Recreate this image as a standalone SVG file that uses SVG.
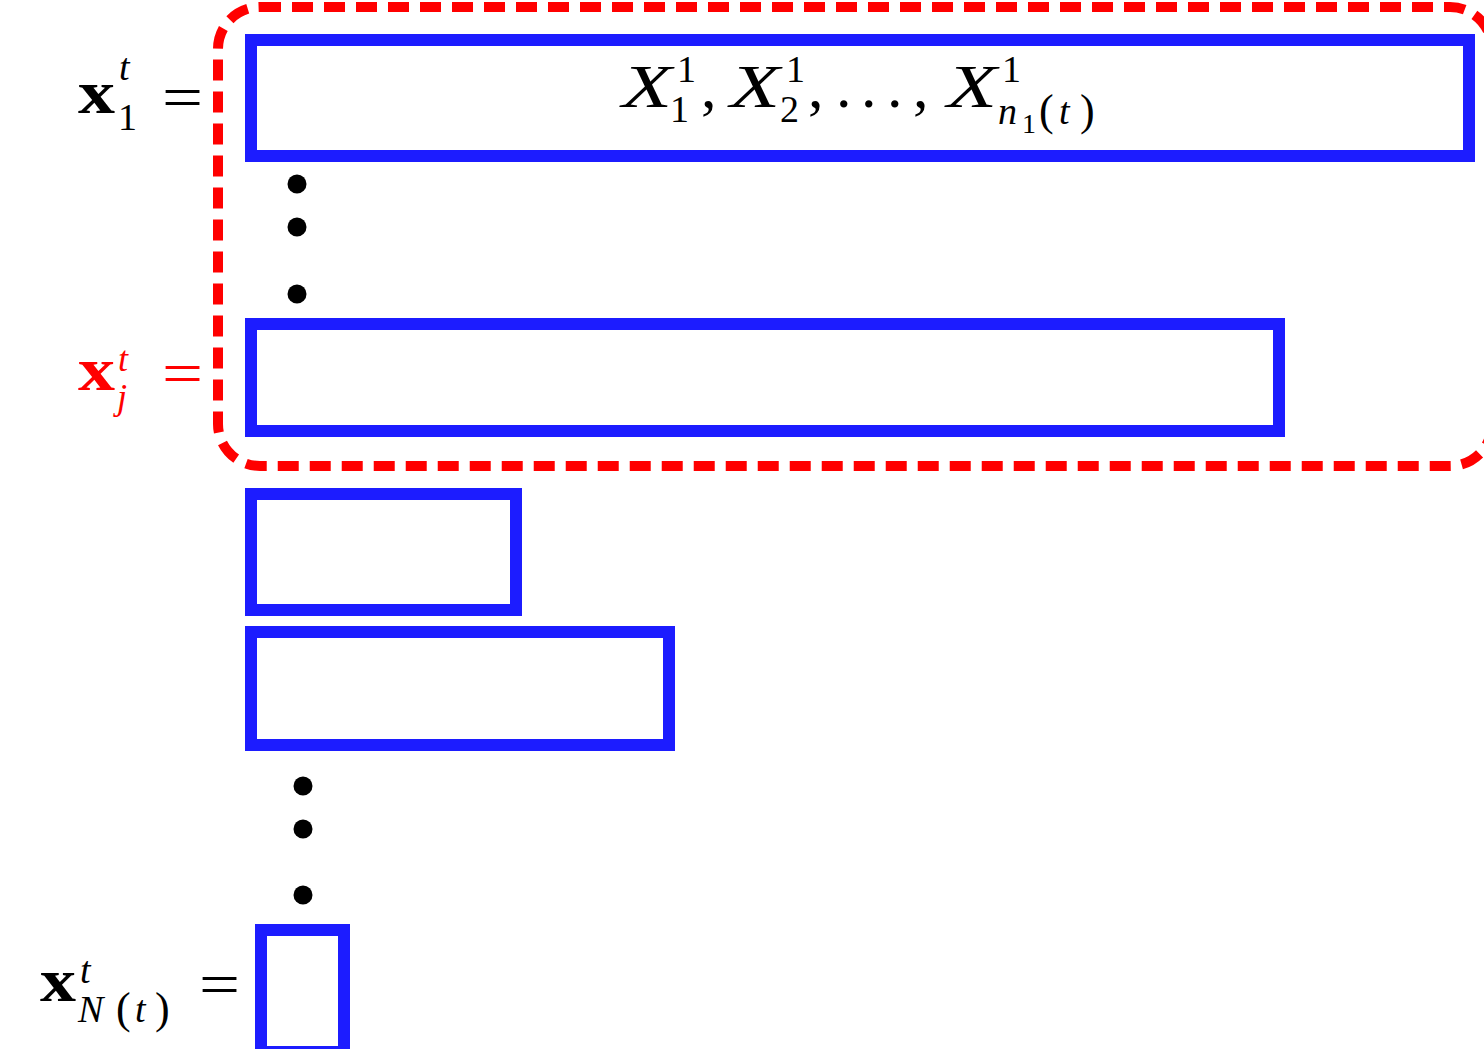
<svg xmlns="http://www.w3.org/2000/svg" width="1484" height="1049" viewBox="0 0 1484 1049">
<style>
.box{fill:none;stroke:#1c1cff;stroke-width:12}
.grp{fill:none;stroke:#ff0000;stroke-width:10;stroke-dasharray:21 11}
.dot{fill:#000}
.m{font-family:"Liberation Serif",serif;fill:#000}
.it{font-style:italic}
.bf{font-weight:bold}
.big{font-size:62px}
.sc{font-size:38px}
.ssc{font-size:28px}
.par{font-size:44px}
.red{fill:#ff0000}
</style>
<rect width="1484" height="1049" fill="#fff"/>
<g id="connectors">
<rect id="group-j" class="grp" x="218" y="7" width="1274" height="459" rx="42" ry="42"/>
</g>
<g id="node-x1">
<rect class="box" x="251" y="40" width="1218" height="116"/>
<text class="m big it" x="622" y="107" textLength="50" lengthAdjust="spacingAndGlyphs">X</text>
<text class="m sc" x="677" y="82">1</text>
<text class="m sc" x="670" y="122">1</text>
<text class="m big" x="701" y="107">,</text>
<text class="m big it" x="730" y="107" textLength="50" lengthAdjust="spacingAndGlyphs">X</text>
<text class="m sc" x="786" y="82">1</text>
<text class="m sc" x="780" y="122">2</text>
<text class="m big" x="808" y="107">,</text>
<text class="m big" x="836" y="107">.</text>
<text class="m big" x="861" y="107">.</text>
<text class="m big" x="887" y="107">.</text>
<text class="m big" x="913" y="107">,</text>
<text class="m big it" x="947" y="107" textLength="50" lengthAdjust="spacingAndGlyphs">X</text>
<text class="m sc" x="1002" y="82">1</text>
<text class="m sc it" x="998" y="124">n</text>
<text class="m ssc" x="1022" y="133">1</text>
<text class="m par" x="1039" y="125">(</text>
<text class="m sc it" x="1059" y="124">t</text>
<text class="m par" x="1080" y="125">)</text>
<text class="m bf" font-size="62" x="78" y="113" textLength="37" lengthAdjust="spacingAndGlyphs">x</text>
<text class="m sc it" x="119" y="80">t</text>
<text class="m sc" x="118" y="130">1</text>
<text class="m big" x="162" y="118" textLength="41" lengthAdjust="spacingAndGlyphs">=</text>
</g>
<g id="dots-upper">
<circle class="dot" cx="297" cy="184" r="9.5"/>
<circle class="dot" cx="297" cy="227" r="9.5"/>
<circle class="dot" cx="297" cy="294" r="9.5"/>
</g>
<g id="node-xj">
<rect class="box" x="251" y="324" width="1028" height="107"/>
<text class="m bf red" font-size="62" x="78" y="390" textLength="37" lengthAdjust="spacingAndGlyphs">x</text>
<text class="m it red" font-size="36" x="118" y="371">t</text>
<text class="m it red" font-size="36" x="117" y="409">j</text>
<text class="m big red" x="162" y="394" textLength="41" lengthAdjust="spacingAndGlyphs">=</text>
</g>
<g id="node-3">
<rect class="box" x="251" y="494" width="265" height="116"/>
</g>
<g id="node-4">
<rect class="box" x="251" y="632" width="418" height="113"/>
</g>
<g id="dots-lower">
<circle class="dot" cx="303" cy="786" r="9.5"/>
<circle class="dot" cx="303" cy="829" r="9.5"/>
<circle class="dot" cx="303" cy="895" r="9.5"/>
</g>
<g id="node-xN">
<rect class="box" x="261" y="930" width="83" height="122"/>
<text class="m bf" font-size="62" x="40" y="1001" textLength="36" lengthAdjust="spacingAndGlyphs">x</text>
<text class="m sc it" x="80" y="983">t</text>
<text class="m sc it" x="78" y="1022">N</text>
<text class="m par" x="116" y="1023">(</text>
<text class="m sc it" x="135" y="1022">t</text>
<text class="m par" x="155" y="1023">)</text>
<text class="m big" x="199" y="1005" textLength="41" lengthAdjust="spacingAndGlyphs">=</text>
</g>
</svg>
